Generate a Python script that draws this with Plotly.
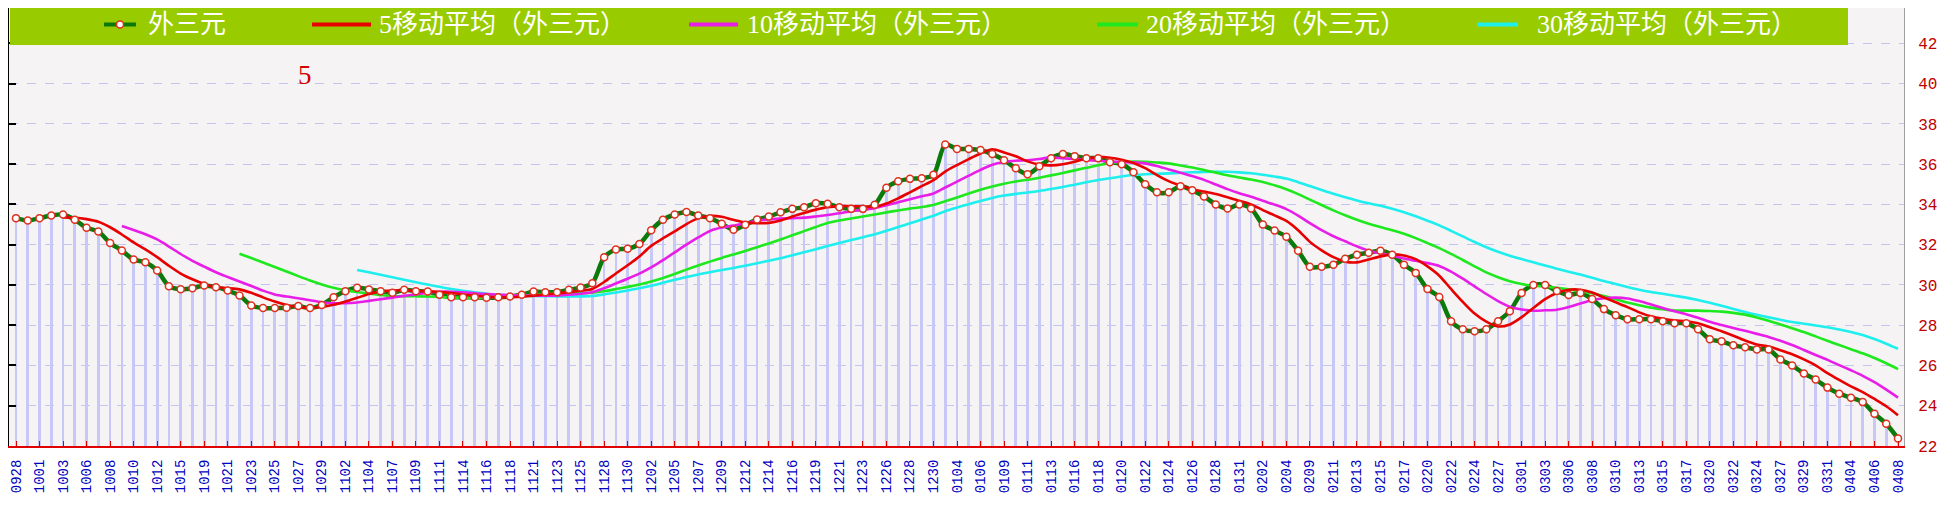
import plotly.graph_objects as go
import pandas as pd

# ---- data ----
tick_labels = [
    "0928","1001","1003","1006","1008","1010","1012","1015","1019","1021","1023","1025","1027","1029","1102","1104","1107","1109","1111","1114","1116",
    "1118","1121","1123","1125","1128","1130","1202","1205","1207","1209","1212","1214","1216","1219","1221","1223","1226","1228","1230","0104","0106",
    "0109","0111","0113","0116","0118","0120","0122","0124","0126","0128","0131","0202","0204","0209","0211","0213","0215","0217","0220","0222","0224",
    "0227","0301","0303","0306","0308","0310","0313","0315","0317","0320","0322","0324","0327","0329","0331","0404","0406","0408",
]

values = [
    33.32, 33.20, 33.32, 33.45, 33.50, 33.24, 32.84, 32.66, 32.09, 31.71,
    31.26, 31.13, 30.72, 29.94, 29.79, 29.84, 29.97, 29.89, 29.72, 29.48,
    28.98, 28.85, 28.85, 28.87, 28.95, 28.85, 29.01, 29.39,
    29.69, 29.86, 29.78, 29.69, 29.61, 29.76, 29.69, 29.67, 29.51, 29.39,
    29.39, 29.39, 29.36, 29.39, 29.43, 29.51, 29.67, 29.64, 29.64, 29.76,
    29.87, 30.09, 31.38, 31.76, 31.80, 32.04, 32.72,
    33.24, 33.50, 33.63, 33.45, 33.32, 33.04, 32.74, 32.99, 33.25, 33.40,
    33.61, 33.78, 33.86, 34.06, 34.03, 33.86, 33.78, 33.78, 33.98, 34.83,
    35.15, 35.27, 35.30, 35.47, 36.98, 36.76, 36.76,
    36.70, 36.50, 36.20, 35.80, 35.50, 35.90, 36.30, 36.50, 36.40, 36.30,
    36.30, 36.10, 36.00, 35.60, 35.00, 34.60, 34.60, 34.90, 34.70, 34.40,
    34.00, 33.80, 34.00, 33.80, 33.00, 32.70, 32.40, 31.70, 30.90, 30.90,
    31.00, 31.30, 31.50, 31.60, 31.70, 31.50, 31.00, 30.60, 29.80, 29.40,
    28.20, 27.80, 27.70, 27.80, 28.20, 28.70, 29.60, 30.00, 30.00, 29.70,
    29.50, 29.60, 29.30, 28.80, 28.50, 28.30, 28.30, 28.30, 28.20, 28.10,
    28.10, 27.80, 27.30, 27.20, 27.00, 26.90, 26.80, 26.80, 26.30, 26.00,
    25.60, 25.30, 24.90, 24.60, 24.40, 24.18, 23.60, 23.10, 22.37,
]

series_name = "外三元"
ma_windows = [5, 10, 20, 30]
ma_colors = ["#E80000", "#E81EE8", "#1EE81E", "#1EEEEE"]
legend_names = ["外三元", "5移动平均（外三元）", "10移动平均（外三元）", "20移动平均（外三元）", "30移动平均（外三元）"]

# ---- geometry (the page body has an 8px margin, so work in window pixels) ----
OFF = 8
W, H = 1954 - 2 * OFF, 513 - 2 * OFF
L, R, T, B = 1, W - (1904 - OFF), 0, H - (446 - OFF)
PW, PH = W - L - R, H - T - B


def px(x_win):
    return (x_win - OFF - L) / PW


def py(y_win):
    return (H - B - (y_win - OFF)) / PH


PX_PER_UNIT = 20.13
y_top = 22 + PH / PX_PER_UNIT
FIRST_X, LAST_X = 16.0, 1898.0
STEP = (LAST_X - FIRST_X) / (len(values) - 1)
x_lo = -((FIRST_X - (OFF + L)) / STEP)
x_hi = x_lo + PW / STEP

x_idx = list(range(len(values)))
s = pd.Series(values)

fig = go.Figure()

# drop lines
fig.add_trace(go.Bar(x=x_idx, y=values, width=0.23, marker=dict(color="#C8C8F6", line=dict(width=0)),
                     showlegend=False, hoverinfo="skip"))

# main line
fig.add_trace(go.Scatter(x=x_idx, y=values, mode="lines", line=dict(color="#0A7A0A", width=4.5, shape="spline", smoothing=0.8),
                         name=series_name, showlegend=False))

# moving averages
for w, c, nm in zip(ma_windows[::-1], ma_colors[::-1], legend_names[:0:-1]):
    ma = s.rolling(w).mean()
    fig.add_trace(go.Scatter(x=x_idx, y=ma, mode="lines", line=dict(color=c, width=2.6, shape="spline", smoothing=0.8),
                             name=nm, showlegend=False, connectgaps=False))

# markers on top
fig.add_trace(go.Scatter(x=x_idx, y=values, mode="markers",
                         marker=dict(size=7, color="white", line=dict(color="#E03020", width=1.5)),
                         showlegend=False, hoverinfo="skip"))

# invisible trace for left axis
fig.add_trace(go.Scatter(x=[0], y=[30], yaxis="y2", mode="markers", marker=dict(opacity=0), showlegend=False, hoverinfo="skip"))

fig.update_layout(
    width=W, height=H,
    margin=dict(l=L, r=R, t=T, b=B, autoexpand=False),
    paper_bgcolor="white",
    plot_bgcolor="#F5F3F3",
    bargap=0,
    xaxis=dict(
        range=[x_lo, x_hi], automargin=False,
        tickmode="array",
        tickvals=list(range(0, len(values), 2)),
        ticktext=tick_labels,
        tickangle=-90,
        ticklabeloverflow="allow",
        ticks="inside", ticklen=5, tickcolor="#E00000", tickwidth=1,
        showline=True, linecolor="#E00000", linewidth=2,
        showgrid=False, zeroline=False,
        ticklabelstandoff=6,
        tickfont=dict(family="Liberation Mono, DejaVu Sans Mono, monospace", size=14, color="#0000C0"),
    ),
    yaxis=dict(
        range=[22, y_top], side="right", tickmode="array", tickvals=list(range(22, 44, 2)), automargin=False,
        showgrid=True, gridcolor="#C4C4F2", griddash="dash", gridwidth=1,
        ticks="", showline=True, linecolor="#A0A0A0", linewidth=1, mirror=False,
        zeroline=False,
        tickfont=dict(family="Liberation Mono, DejaVu Sans Mono, monospace", size=16, color="#C00000"),
        ticklabelstandoff=10,
    ),
    yaxis2=dict(
        range=[22, y_top], tickmode="array", tickvals=list(range(22, 44, 2)), overlaying="y", side="left", automargin=False,
        showgrid=False, zeroline=False, showticklabels=False,
        ticks="inside", ticklen=7, tickcolor="black", tickwidth=1.5,
        showline=True, linecolor="black", linewidth=2,
    ),
    showlegend=False,
)

shapes = []
# legend box
shapes.append(dict(type="rect", xref="paper", yref="paper", x0=px(10), x1=px(1848), y0=py(45), y1=1.0,
                   fillcolor="#99CC00", line=dict(width=0), layer="above"))
legend_swatch = [(104, 136), (312, 371), (689, 738), (1097, 1138), (1477, 1518)]
legend_text_x = [146, 377, 745, 1144, 1535]
sw_colors = ["#0A7A0A"] + ma_colors
for (a, b), c in zip(legend_swatch, sw_colors):
    shapes.append(dict(type="line", xref="paper", yref="paper", x0=px(a), x1=px(b), y0=py(24.5), y1=py(24.5),
                       line=dict(color=c, width=4), layer="above"))
# marker in first swatch
shapes.append(dict(type="circle", xref="paper", yref="paper", x0=px(116.5), x1=px(123.5), y0=py(28), y1=py(21),
                   fillcolor="white", line=dict(color="#E03020", width=1.5), layer="above"))

annotations = []
for tx, nm in zip(legend_text_x, legend_names):
    annotations.append(dict(xref="paper", yref="paper", x=px(tx), y=py(25), xanchor="left", yanchor="middle",
                            text=nm, showarrow=False,
                            font=dict(family="Liberation Serif, Noto Sans CJK SC", size=26, color="white")))
annotations.append(dict(xref="paper", yref="paper", x=px(305), y=py(75), xanchor="center", yanchor="middle",
                        text="5", showarrow=False,
                        font=dict(family="Liberation Serif, serif", size=27, color="#D00000")))

fig.update_layout(shapes=shapes, annotations=annotations)

fig.write_html("out.html")
